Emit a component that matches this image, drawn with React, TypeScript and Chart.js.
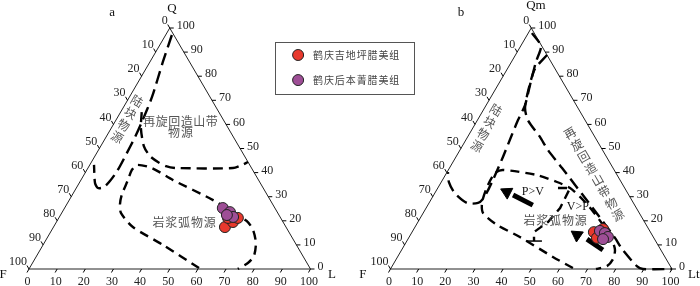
import React, { useEffect, useRef } from "react";
import { Chart, registerables } from "chart.js";
Chart.register(...registerables);

// ---------- data (ternary, stored as [Q, L]; F = 100 - Q - L) ----------
const TICK_VALUES = [0, 10, 20, 30, 40, 50, 60, 70, 80, 90, 100];
const SERIES_NAMES = ["鹤庆吉地坪腊美组", "鹤庆后本菁腊美组"];

// diagram a: Q-F-L
const aJidipingQL = [[17.4, 60.9], [19.5, 62.7], [21.2, 63.6], [21.2, 60.1]];
const aHoubenjingQL = [[25.3, 56.2], [23.6, 59.6], [21.6, 61.7], [22.4, 59.1]];
const aContinentalQL = [
  [97.1, 2.2], [85.9, 4.6], [71.4, 8.0], [61.0, 9.6], [54.8, 10.3], [48.1, 10.7],
  [41.1, 11.0], [36.5, 10.5], [34.0, 9.6], [33.6, 7.7], [35.7, 5.6], [43.2, 1.5],
];
const aRecycledQL = [
  [65.1, 7.5], [58.5, 10.5], [51.0, 15.3], [46.9, 19.5], [44.4, 23.6], [42.7, 27.3],
  [41.9, 31.2], [41.9, 51.5], [43.2, 54.1], [44.4, 55.6],
];
const aArcQL = [
  [0.4, 60.2], [10.0, 42.6], [17.4, 28.2], [23.2, 21.1], [26.6, 19.0], [30.7, 17.6],
  [36.9, 16.7], [41.1, 16.0], [43.2, 16.8], [41.9, 22.7], [36.9, 32.7], [28.6, 51.1],
  [19.9, 67.4], [16.2, 71.5], [10.8, 75.2], [5.4, 77.2], [2.5, 76.5], [0, 74.2],
];

// diagram b: Qm-F-Lt
const bJidipingQL = [[15.3, 64.6], [12.9, 66.9], [16.6, 67.2]];
const bHoubenjingQL = [[15.8, 66.5], [14.9, 68.7], [13.3, 70.6], [12.4, 69.3]];
const bContinentalQL = [
  [97.9, 1.3], [92.5, 7.2], [85.9, 8.7], [76.3, 11.4], [68.0, 13.8], [61.8, 14.4],
  [55.6, 15.3], [46.5, 16.7], [36.1, 18.0], [29.5, 18.4], [27.4, 17.4], [27.4, 13.5],
  [31.5, 7.1], [36.1, 2.7], [40.2, 0.3],
];
const bRecycledQL = [
  [88.8, 11.2], [83.0, 9.8], [75.1, 11.6], [66.8, 14.4], [61.8, 17.9], [54.8, 25.7],
  [49.4, 31.2], [41.9, 40.0], [31.1, 52.5], [24.1, 60.6], [12.9, 73.3], [8.3, 78.1],
  [1.2, 86.9], [0, 89.7], [0, 100],
];
const bArcQL = [
  [0.4, 64.6], [5.0, 55.2], [13.3, 39.3], [18.3, 28.7], [23.2, 21.3], [27.4, 18.8],
  [34.0, 17.3], [39.8, 17.2], [41.1, 19.4], [39.0, 32.5], [36.1, 41.1], [33.6, 47.0],
  [29.9, 52.4], [24.5, 59.3], [17.8, 66.9], [12.0, 72.7], [7.9, 75.8], [4.1, 77.0],
  [1.2, 76.3], [0, 73.0],
];
const bDividerQL = [[33.6, 42.7], [33.6, 47.0], [25.3, 47.6], [19.5, 46.2], [15.3, 43.3], [11.6, 45.2]];
const bDividerBarQL = [[11.6, 42.3], [11.6, 48.0]];
const bArrowShaftsQL = [
  [[26.5, 37.3], [30.7, 28.2]],
  [[7.9, 71.5], [12.4, 63.6]],
];
const bArrowHeadsQL = [[31.9, 25.4], [14.1, 59.2]];
const ARROW_LABELS = [
  { text: "P>V", u: 179.0, q: 31.9 },
  { text: "V>P", u: 195.0, q: 25.7 },
];

// ---------- layout in chart value space ----------
const OFF_A = 0;
const OFF_B = 128.42;
const X_MIN = -10.3;
const X_MAX = 238.37;
const Y_MIN = -7.05;
const Y_MAX = 111.62;

const CORNER_LABELS = [
  { text: "a", u: 29.5, q: 106.6 },
  { text: "Q", u: 50.8, q: 107.9 },
  { text: "F", u: -9.2, q: -2.5 },
  { text: "L", u: 107.6, q: -2.5 },
  { text: "b", u: 153.5, q: 106.6 },
  { text: "Qm", u: 180.1, q: 109.1 },
  { text: "F", u: 118.6, q: -2.5 },
  { text: "Lt", u: 236.2, q: -2.5 },
];
const FIELD_LABELS = [
  { text: "再旋回造山带", u: 53.8, q: 61.4, spacing: 12.5 },
  { text: "物源", u: 53.8, q: 56.8, spacing: 13 },
  { text: "岩浆弧物源", u: 55.1, q: 19.5, spacing: 12.8 },
  { text: "岩浆弧物源", u: 186.9, q: 20.3, spacing: 12.8 },
];
const ROTATED_LABELS = [
  { text: "陆块物源", from: [38.4, 69.7], to: [31.3, 54.8], rot: 30 },
  { text: "陆块物源", from: [165.9, 66.0], to: [159.1, 51.0], rot: 30 },
  { text: "再旋回造山带物源", from: [192.2, 56.4], to: [209.2, 22.4], rot: -30 },
];
const LEGEND = { u0: 87.4, q0: 94.2, u1: 136.8, q1: 72.6, markerU: 95.6, textU: 100.9, rows: [88.8, 78.4] };

const RED = "#e8392d";
const PURPLE = "#9e4e96";
const LATIN = '"Liberation Serif", "Times New Roman", serif';
const CJK = '"Noto Sans CJK SC", "Noto Sans", sans-serif';

const toPt = (ql: number[], off: number) => ({ x: off + ql[1] + ql[0] / 2, y: ql[0] });

const lineDs = (ql: number[][], off: number, extra: any = {}) => ({
  data: ql.map((p) => toPt(p, off)),
  showLine: true,
  pointRadius: 0,
  borderColor: "#000",
  borderWidth: 2.4,
  borderDash: [10, 6],
  tension: 0.25,
  order: 5,
  ...extra,
});

const decorPlugin = {
  id: "ternaryDecor",
  afterDatasetsDraw(chart: any) {
    const { ctx } = chart;
    const sx = chart.scales.x;
    const sy = chart.scales.y;
    const px = (u: number, q: number) => [sx.getPixelForValue(u), sy.getPixelForValue(q)];
    ctx.save();
    for (const off of [OFF_A, OFF_B]) {
      ctx.strokeStyle = "#000";
      ctx.lineWidth = 1;
      ctx.fillStyle = "#222";
      ctx.font = "12px " + LATIN;
      ctx.textBaseline = "middle";
      for (const v of TICK_VALUES) {
        let [X, Y] = px(off + (100 - v) / 2, 100 - v);
        ctx.beginPath(); ctx.moveTo(X, Y); ctx.lineTo(X - 2, Y - 3.5); ctx.stroke();
        ctx.textAlign = "right";
        ctx.fillText(String(v), X - 2, Y - 7);
        [X, Y] = px(off + (100 - v) + v / 2, v);
        ctx.beginPath(); ctx.moveTo(X, Y); ctx.lineTo(X + 4, Y); ctx.stroke();
        ctx.textAlign = "left";
        ctx.fillText(String(v), X + 7, Y - 2);
        [X, Y] = px(off + v, 0);
        ctx.beginPath(); ctx.moveTo(X, Y); ctx.lineTo(X - 2, Y + 3.5); ctx.stroke();
        ctx.textAlign = "center";
        ctx.fillText(String(v), X - 1.5, Y + 13);
      }
    }
    ctx.font = "13px " + LATIN;
    ctx.fillStyle = "#111";
    ctx.textAlign = "center";
    for (const c of CORNER_LABELS) {
      const [X, Y] = px(c.u, c.q);
      ctx.fillText(c.text, X, Y);
    }
    ctx.font = "12px " + LATIN;
    for (const c of ARROW_LABELS) {
      const [X, Y] = px(c.u, c.q);
      ctx.fillText(c.text, X, Y);
    }
    ctx.fillStyle = "#555";
    ctx.font = "12px " + CJK;
    for (const f of FIELD_LABELS) {
      const [X, Y] = px(f.u, f.q);
      const chars = Array.from(f.text);
      const start = X - (f.spacing * (chars.length - 1)) / 2;
      chars.forEach((ch, i) => ctx.fillText(ch, start + i * f.spacing, Y));
    }
    for (const r of ROTATED_LABELS) {
      const [X0, Y0] = px(r.from[0], r.from[1]);
      const [X1, Y1] = px(r.to[0], r.to[1]);
      const chars = Array.from(r.text);
      chars.forEach((ch, i) => {
        const t = i / (chars.length - 1);
        ctx.save();
        ctx.translate(X0 + (X1 - X0) * t, Y0 + (Y1 - Y0) * t);
        ctx.rotate((r.rot * Math.PI) / 180);
        ctx.fillText(ch, 0, 0);
        ctx.restore();
      });
    }
    const [LX0, LY0] = px(LEGEND.u0, LEGEND.q0);
    const [LX1, LY1] = px(LEGEND.u1, LEGEND.q1);
    ctx.strokeStyle = "#555";
    ctx.lineWidth = 1;
    ctx.strokeRect(Math.round(LX0) + 0.5, Math.round(LY0) + 0.5, Math.round(LX1 - LX0), Math.round(LY1 - LY0));
    const colors = [RED, PURPLE];
    LEGEND.rows.forEach((q, i) => {
      const [MX, MY] = px(LEGEND.markerU, q);
      ctx.beginPath();
      ctx.arc(MX, MY, 5.5, 0, Math.PI * 2);
      ctx.fillStyle = colors[i];
      ctx.fill();
      ctx.strokeStyle = "#222";
      ctx.stroke();
      const [TX] = px(LEGEND.textU, q);
      ctx.fillStyle = "#444";
      ctx.font = "10px " + CJK;
      ctx.textAlign = "center";
      const chars = Array.from(SERIES_NAMES[i]);
      chars.forEach((ch, k) => ctx.fillText(ch, TX + 5 + k * 10.9, MY));
    });
    ctx.restore();
  },
};

export default function App() {
  const ref = useRef<HTMLCanvasElement>(null);
  useEffect(() => {
    document.body.style.margin = "0";
    if (!ref.current) return;
    const outline = [[0, 0], [0, 100], [100, 0], [0, 0]];
    const chart = new Chart(ref.current, {
      type: "scatter",
      data: {
        datasets: [
          {
            label: SERIES_NAMES[1],
            data: [...aHoubenjingQL.map((p) => toPt(p, OFF_A)), ...bHoubenjingQL.map((p) => toPt(p, OFF_B))],
            pointRadius: 5.5,
            backgroundColor: PURPLE,
            borderColor: "#222",
            borderWidth: 1,
            order: 0,
          },
          {
            label: SERIES_NAMES[0],
            data: [...aJidipingQL.map((p) => toPt(p, OFF_A)), ...bJidipingQL.map((p) => toPt(p, OFF_B))],
            pointRadius: 5.5,
            backgroundColor: RED,
            borderColor: "#222",
            borderWidth: 1,
            order: 1,
          },
          lineDs(outline, OFF_A, { borderWidth: 1, borderDash: [], tension: 0, borderColor: "#222", order: 6 }),
          lineDs(outline, OFF_B, { borderWidth: 1, borderDash: [], tension: 0, borderColor: "#222", order: 6 }),
          lineDs(aContinentalQL, OFF_A, { borderDash: [13, 6] }),
          lineDs(aRecycledQL, OFF_A),
          lineDs(aArcQL, OFF_A, { borderDash: [9, 6] }),
          lineDs(bContinentalQL, OFF_B, { borderDash: [12, 6] }),
          lineDs(bRecycledQL, OFF_B, { borderDash: [12, 6] }),
          lineDs(bArcQL, OFF_B, { borderDash: [9, 6] }),
          lineDs(bDividerQL, OFF_B, { borderDash: [9, 6], tension: 0 }),
          lineDs(bDividerBarQL, OFF_B, { borderDash: [], borderWidth: 1.5, tension: 0 }),
          ...bArrowShaftsQL.map((s) => lineDs(s, OFF_B, { borderDash: [], borderWidth: 5, tension: 0, order: 3 })),
          {
            data: bArrowHeadsQL.map((p) => toPt(p, OFF_B)),
            pointStyle: "triangle",
            pointRadius: 7,
            backgroundColor: "#000",
            borderColor: "#000",
            borderWidth: 1,
            order: 2,
            pointRotation: (c: any) => {
              const s = bArrowShaftsQL[c.dataIndex];
              const sc = c.chart.scales;
              if (!s || !sc || !sc.x) return 0;
              const a = toPt(s[0], OFF_B);
              const b = toPt(s[1], OFF_B);
              const dx = sc.x.getPixelForValue(b.x) - sc.x.getPixelForValue(a.x);
              const dy = sc.y.getPixelForValue(b.y) - sc.y.getPixelForValue(a.y);
              return (Math.atan2(dx, -dy) * 180) / Math.PI;
            },
          },
        ] as any,
      },
      options: {
        animation: false,
        responsive: true,
        maintainAspectRatio: false,
        events: [],
        layout: { padding: 0, autoPadding: false },
        plugins: { legend: { display: false }, tooltip: { enabled: false }, title: { display: false } },
        scales: {
          x: { type: "linear", min: X_MIN, max: X_MAX, display: false },
          y: { type: "linear", min: Y_MIN, max: Y_MAX, display: false },
        },
      },
      plugins: [decorPlugin],
    });
    return () => chart.destroy();
  }, []);
  return (
    <div style={{ width: 700, height: 286, position: "relative", background: "#fff" }}>
      <canvas ref={ref} />
    </div>
  );
}
